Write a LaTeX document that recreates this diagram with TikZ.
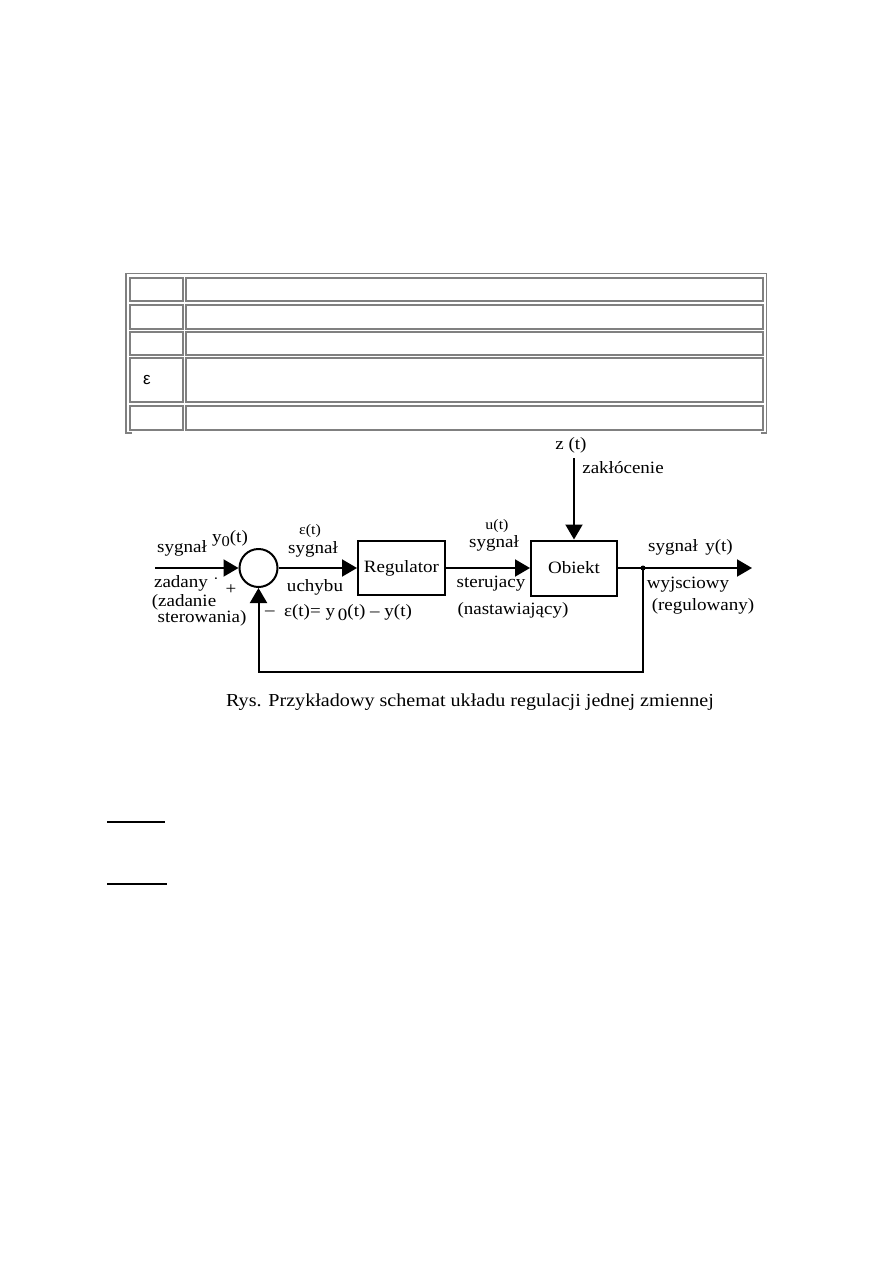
\documentclass[tikz,border=0pt]{standalone}
\usepackage{fontspec}
\setmainfont{Liberation Serif}[FakeStretch=1.1]
\newfontfamily\sansf{Liberation Sans}
\usetikzlibrary{arrows.meta}
\definecolor{tgray}{HTML}{808080}
\begin{document}
\begin{tikzpicture}[x=1pt,y=-1pt,
  lbl/.style={inner sep=0pt, font=\fontsize{17.3}{19}\selectfont},
  sml/.style={inner sep=0pt, font=\fontsize{14.5}{16}\selectfont},
  cell/.style={draw=tgray, line width=1.3pt},
  wire/.style={line width=2pt},
  arr/.style={wire, -{Triangle[length=15pt,width=17pt]}},
  blk/.style={draw, line width=2pt, inner sep=0pt, font=\fontsize{17.3}{19}\selectfont}]
\path[use as bounding box, fill=white] (0,0) rectangle (893,1263);

% table
\draw[cell] (132,433) -- (126,433) -- (126,273.5) -- (766.5,273.5) -- (766.5,433) -- (761,433);
\foreach \a/\b in {278/301,305/329,332/355,358/402,406/430} {
  \draw[cell] (130,\a) rectangle (183,\b);
  \draw[cell] (186,\a) rectangle (763,\b);
}
\node[inner sep=0pt, font=\sansf\fontsize{17}{19}\selectfont] (eps) at (147,380) {ε};

% blocks
\node[blk, circle, minimum size=38pt] (sum) at (258.5,568) {};
\node[blk, minimum width=87pt, minimum height=54pt] (reg) at (401.5,568) {Regulator};
\node[blk, minimum width=86pt, minimum height=55pt] (obj) at (574,568) {Obiekt};

\coordinate (in) at (155,568);
\coordinate (junc) at (643,568);
\coordinate (out) at (752,568);
\coordinate (fbr) at (643,672);
\coordinate (fbl) at (258.5,672);
\coordinate (dist) at (574,458);

\draw[arr] (in) -- (sum.west);
\draw[arr] (sum.east) -- (reg.west);
\draw[arr] (reg.east) -- (obj.west);
\draw[wire] (obj.east) -- (junc);
\draw[arr] (junc) -- (out);
\draw[arr] (junc) -- (fbr) -- (fbl) -- (sum.south);
\fill (junc) circle (2.5pt);
\draw[arr] (dist) -- (obj.north);

% labels
\node[lbl] (l1) at (182,548) {sygnał};
\node[lbl] (l2) at (230,539) {y\raisebox{-4pt}{\fontsize{15}{15}\selectfont 0}(t)};
\node[lbl] (l3) at (181,583) {zadany};
\node[sml] (dotm) at (216,581) {·};
\node[lbl] (plus) at (231,590) {+};
\node[lbl] (l4) at (184,602) {(zadanie};
\node[lbl] (l5) at (202,618) {sterowania)};
\node[lbl] (minus) at (270,613) {–};
\node[lbl] (eq) at (348,613) {ε(t)= y\,\raisebox{-4pt}{0}(t) – y(t)};
\node[sml] (e1) at (310,531) {ε(t)};
\node[lbl] (l6) at (313,549) {sygnał};
\node[lbl] (l7) at (315,587) {uchybu};
\node[sml] (u1) at (497,526) {u(t)};
\node[lbl] (l8) at (494,543) {sygnał};
\node[lbl] (l9) at (491,584) {sterujacy};
\node[lbl] (l10) at (513,610) {(nastawiający)};
\node[lbl] (z1) at (571,445) {z (t)};
\node[lbl] (l11) at (623,468) {zakłócenie};
\node[lbl] (l12) at (673,547) {sygnał};
\node[lbl] (y1) at (719,547) {y(t)};
\node[lbl] (l13) at (688,585) {wyjsciowy};
\node[lbl] (l14) at (703,606) {(regulowany)};
\node[inner sep=0pt, font=\fontsize{18.3}{20}\selectfont] (cap) at (470,702) {Rys. Przykładowy schemat układu regulacji jednej zmiennej};

% short rules
\draw[line width=1.3pt] (107,822) -- (165,822);
\draw[line width=1.3pt] (107,884) -- (167,884);
\end{tikzpicture}
\end{document}
